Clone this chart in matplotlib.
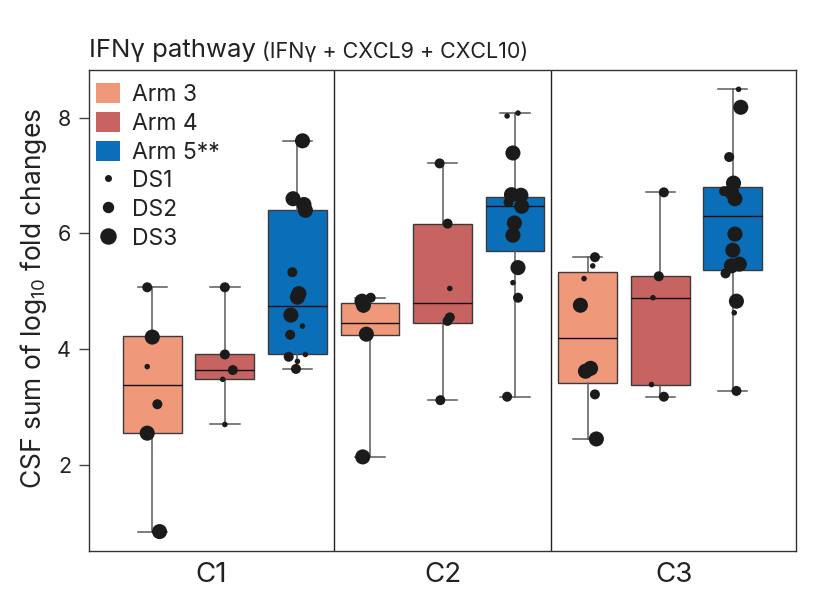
import matplotlib
matplotlib.use("Agg")
import matplotlib.pyplot as plt
import numpy as np
from matplotlib.patches import Patch
from matplotlib.lines import Line2D

plt.rcParams["font.family"] = ["Inter", "DejaVu Sans"]
plt.rcParams["mathtext.fontset"] = "custom"
plt.rcParams["mathtext.rm"] = "Inter"

# --- data ---
groups = ["C1", "C2", "C3"]
arms = ["Arm 3", "Arm 4", "Arm 5**"]
arm_colors = ["#EF997A", "#C76360", "#0A6FB8"]

# box stats, order: C1 (arm3, arm4, arm5), C2 (...), C3 (...)
q1 = [2.55, 3.48, 3.91, 4.24, 4.46, 5.69, 3.41, 3.38, 5.37]
med = [3.38, 3.64, 4.74, 4.46, 4.79, 6.47, 4.20, 4.89, 6.30]
q3 = [4.22, 3.91, 6.40, 4.80, 6.17, 6.63, 5.33, 5.26, 6.80]
whislo = [0.85, 2.70, 3.66, 2.14, 3.12, 3.18, 2.45, 3.17, 3.28]
whishi = [5.07, 5.07, 7.60, 4.88, 7.21, 8.08, 5.59, 6.71, 8.49]

# individual patients: value, disease severity (1-3), jitter (box spacing units)
pt_vals = [
    [5.07, 4.21, 3.70, 3.05, 2.55, 0.85],
    [5.07, 3.91, 3.64, 3.48, 2.70],
    [7.60, 6.60, 6.50, 6.40, 5.33, 4.96, 4.90, 4.59, 4.40, 4.25, 3.87, 3.91, 3.79, 3.66],
    [4.83, 4.89, 4.76, 4.68, 4.26, 2.14],
    [7.21, 6.17, 5.05, 4.55, 4.49, 4.46, 3.12],
    [8.08, 8.03, 7.39, 6.67, 6.66, 6.54, 6.47, 6.18, 5.97, 5.41, 5.15, 4.89, 3.18],
    [5.59, 5.44, 5.22, 4.76, 3.67, 3.62, 3.22, 2.45],
    [6.71, 5.26, 4.89, 3.39, 3.18],
    [8.49, 8.18, 7.32, 6.87, 6.73, 6.72, 6.60, 5.99, 5.71, 5.47, 5.44, 5.31, 4.83, 4.63, 3.28],
]
pt_ds = [
    [2, 3, 1, 2, 3, 3],
    [2, 2, 2, 1, 1],
    [3, 3, 3, 3, 2, 3, 3, 3, 1, 2, 2, 1, 1, 2],
    [3, 2, 3, 1, 3, 3],
    [2, 2, 1, 2, 2, 1, 2],
    [1, 1, 3, 3, 3, 2, 3, 3, 3, 3, 1, 2, 2],
    [2, 1, 1, 3, 3, 3, 2, 3],
    [2, 2, 1, 1, 2],
    [1, 3, 2, 3, 2, 3, 3, 3, 3, 3, 3, 2, 3, 1, 2],
]
pt_dx = [
    [-0.07, 0.0, -0.07, 0.07, -0.07, 0.10],
    [0.0, 0.0, 0.11, -0.03, 0.0],
    [0.07, -0.06, 0.09, 0.11, -0.07, 0.02, 0.0, -0.09, 0.07, -0.10, -0.12, 0.11, 0.0, -0.02],
    [-0.11, 0.01, -0.09, -0.09, -0.05, -0.10],
    [-0.04, 0.07, 0.10, 0.10, 0.07, 0.05, -0.03],
    [0.04, -0.11, -0.03, -0.05, 0.08, -0.09, 0.09, -0.01, -0.03, 0.04, -0.03, 0.04, -0.11],
    [0.10, 0.07, -0.05, -0.10, 0.04, -0.03, 0.10, 0.12],
    [0.05, -0.02, -0.10, -0.12, 0.05],
    [0.08, 0.11, -0.05, 0.01, -0.12, -0.02, 0.03, 0.03, 0.0, 0.09, -0.02, -0.10, 0.05, 0.02, 0.05],
]
ds_labels = ["DS1", "DS2", "DS3"]
ds_sizes = {1: 16, 2: 52, 3: 118}

# --- figure ---
fig = plt.figure(figsize=(8.18, 5.95), dpi=100)
ax = fig.add_axes([0.109, 0.074, 0.864, 0.808])

n = len(q1)
pos = np.arange(n)
stats = [dict(q1=q1[i], med=med[i], q3=q3[i], whislo=whislo[i], whishi=whishi[i])
         for i in range(n)]
bp = ax.bxp(stats, positions=pos, widths=0.81, showfliers=False, patch_artist=True,
            boxprops=dict(edgecolor="#3a3a3a", linewidth=1.0),
            medianprops=dict(color="#111111", linewidth=1.0),
            whiskerprops=dict(color="#5a5a5a", linewidth=1.1),
            capprops=dict(color="#5a5a5a", linewidth=1.1),
            zorder=2)
for i, box in enumerate(bp["boxes"]):
    box.set_facecolor(arm_colors[i % 3])

for i in range(n):
    xs = pos[i] + np.array(pt_dx[i])
    sizes = [ds_sizes[d] for d in pt_ds[i]]
    ax.scatter(xs, pt_vals[i], s=sizes, color="#1b1b1b", linewidths=0, zorder=3)

xlo, xhi = -0.87, n - 1 + 0.87
ax.set_xlim(xlo, xhi)
ax.set_ylim(0.515, 8.82)

# group separators and labels
seps = [2.5, 5.5]
for s in seps:
    ax.axvline(s, color="#222222", linewidth=1.0, zorder=1)
edges = [xlo] + seps + [xhi]
centers = [(edges[k] + edges[k + 1]) / 2 for k in range(len(groups))]
ax.set_xticks(centers)
ax.set_xticklabels(groups, fontsize=20, color="#222222")
ax.tick_params(axis="x", length=0, pad=8)

ax.set_yticks([2, 4, 6, 8])
ax.tick_params(axis="y", labelsize=15.5, length=7, width=1.0, color="#444444",
               labelcolor="#222222", pad=6)
for sp in ax.spines.values():
    sp.set_color("#333333")
    sp.set_linewidth(1.0)

ax.set_ylabel(r"CSF sum of log$\mathregular{_{10}}$ fold changes", fontsize=19,
              color="#222222")
ax.yaxis.set_label_coords(-0.057, 0.525)

# title in two sizes
t1 = ax.text(0.0, 1.027, "IFNγ pathway", transform=ax.transAxes, fontsize=18.5,
             color="#222222", ha="left", va="baseline")
ax.annotate(" (IFNγ + CXCL9 + CXCL10)", xy=(1, 0), xycoords=t1, fontsize=15.5,
            color="#222222", ha="left", va="bottom")

# legend
handles = [Patch(facecolor=c, edgecolor="none", label=a) for a, c in zip(arms, arm_colors)]
for k, lab in enumerate(ds_labels, start=1):
    handles.append(Line2D([], [], linestyle="none", marker="o", color="#1b1b1b",
                          markersize=np.sqrt(ds_sizes[k]), label=lab))
ax.legend(handles=handles, loc="upper left", bbox_to_anchor=(-0.005, 0.994), frameon=False,
          fontsize=16.5, handlelength=1.05, handleheight=0.96, handletextpad=0.55,
          labelspacing=0.26, borderaxespad=0.22, borderpad=0.22, labelcolor="#222222")

fig.savefig("out.png", dpi=100)
